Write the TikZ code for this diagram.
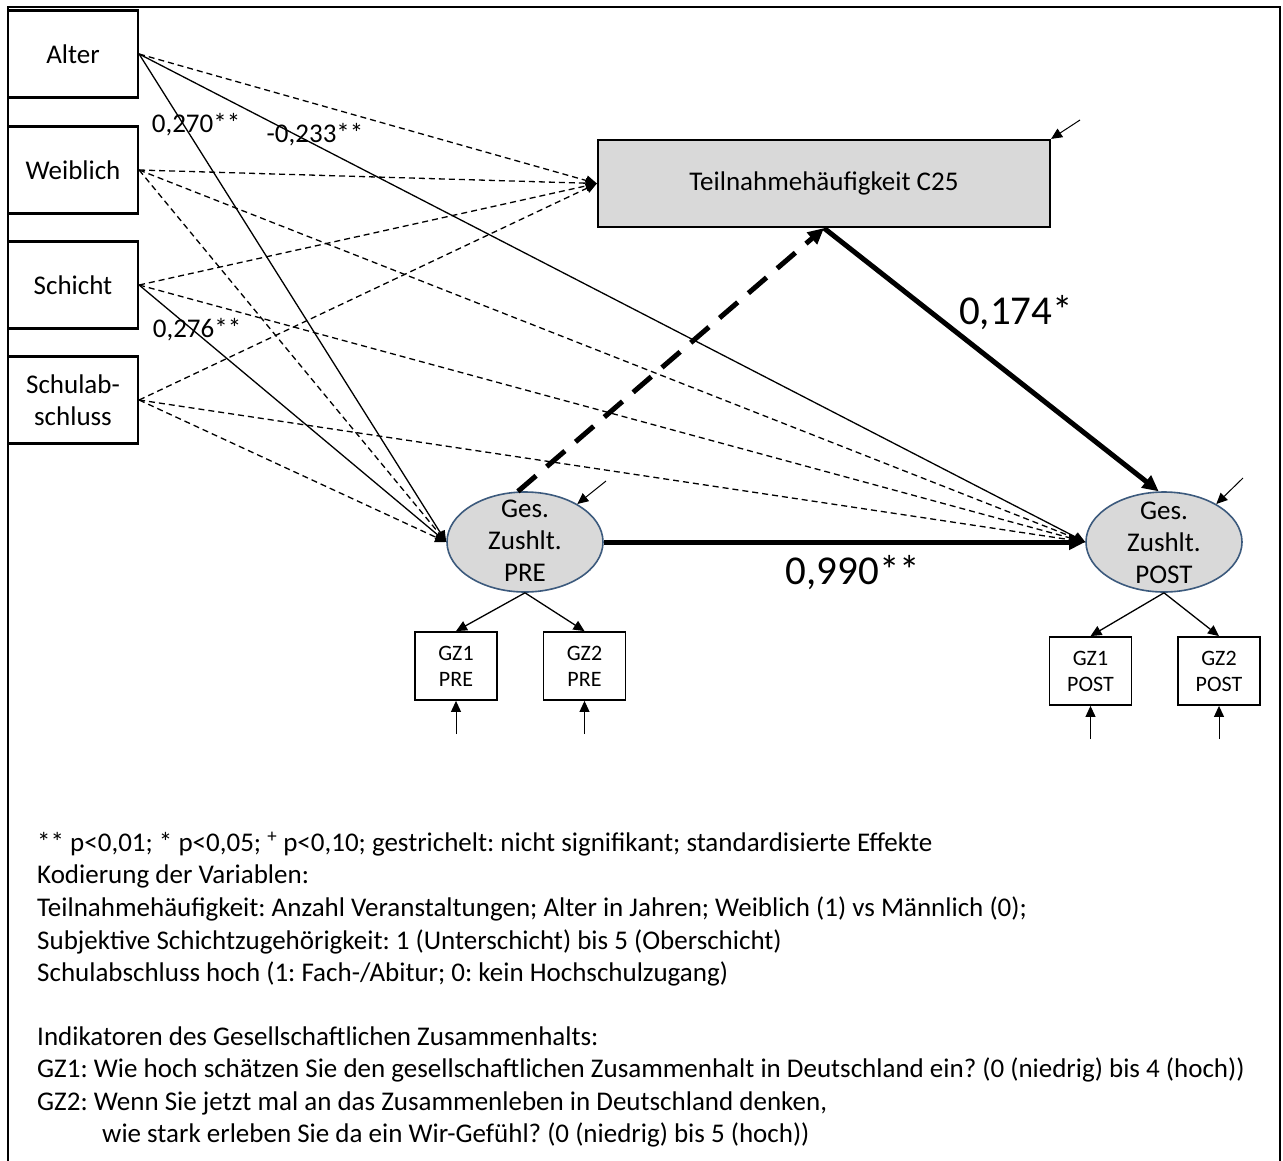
\documentclass[tikz,border=0pt]{standalone}
\usepackage{fontspec}
\setmainfont{Carlito}
\usetikzlibrary{arrows.meta,shapes.geometric}
\definecolor{ellborder}{RGB}{60,90,125}
\frenchspacing
\begin{document}
\begin{tikzpicture}[x=1pt,y=-1pt,
  font=\fontsize{27}{32}\selectfont,
  varbox/.style={draw,line width=2.2pt,minimum width=130pt,minimum height=87pt,inner sep=0pt,align=center},
  indbox/.style={draw,line width=1.8pt,minimum width=82pt,minimum height=68pt,inner sep=0pt,align=center,font=\fontsize{22}{26}\selectfont},
  latent/.style={ellipse,draw=ellborder,line width=1.6pt,fill=gray!30,minimum width=156pt,minimum height=100pt,inner sep=0pt},
  thinarr/.style={line width=1.3pt,-{Triangle[length=11pt,width=10pt]}},
  dsh/.style={thinarr,dash pattern=on 6pt off 4pt},
  thickarr/.style={line width=5pt,-{Triangle[length=16pt,width=15pt]}},
  errarr/.style={line width=1pt,-{Triangle[length=11pt,width=10pt]}},
  lg/.style={anchor=mid west,inner sep=0pt},
  coef/.style={inner sep=0pt},
  bigcoef/.style={inner sep=0pt,font=\fontsize{41}{48}\selectfont}]
\useasboundingbox (0,0) rectangle (1283,1160);
\draw[line width=2.5pt] (8,1162) -- (8,7) -- (1280,7) -- (1280,1162);

% exogenous variables
\node[varbox] (alter) at (73,54) {Alter};
\node[varbox] (weib) at (73,170) {Weiblich};
\node[varbox] (schicht) at (73,285) {Schicht};
\node[varbox] (schul) at (73,400) {Schulab-\\schluss};

% mediator
\node[draw,line width=2.2pt,fill=gray!30,minimum width=452pt,minimum height=87pt,inner sep=0pt] (teil) at (824,183.5) {Teilnahmeh\"aufigkeit C25};

% latent variables
\node[latent] (pre) at (525,542) {};
\node[inner sep=0pt,align=center] (pret) at (525,541) {Ges.\\Zushlt.\\PRE};
\node[latent] (post) at (1164,542) {};
\node[inner sep=0pt,align=center] (postt) at (1164,543) {Ges.\\Zushlt.\\POST};

% indicators
\node[indbox] (g1pre) at (456,666) {GZ1\\PRE};
\node[indbox] (g2pre) at (584.5,666) {GZ2\\PRE};
\node[indbox] (g1post) at (1090.5,671) {GZ1\\POST};
\node[indbox] (g2post) at (1219,671) {GZ2\\POST};

% error terms
\coordinate (eteil) at (1080,120);
\coordinate (epre) at (606,481);
\coordinate (epost) at (1243,478);
\coordinate (e1pre) at (456,734);
\coordinate (e2pre) at (584.5,734);
\coordinate (e1post) at (1090.5,739);
\coordinate (e2post) at (1219,739);

% paths to Teilnahme
\draw[dsh] (alter.east) -- (teil.west);
\draw[dsh] (weib.east) -- (teil.west);
\draw[dsh] (schicht.east) -- (teil.west);
\draw[dsh] (schul.east) -- (teil.west);

% paths to PRE
\draw[thinarr] (alter.east) -- (pre.west);
\draw[dsh] (weib.east) -- (pre.west);
\draw[thinarr] (schicht.east) -- (pre.west);
\draw[dsh] (schul.east) -- (pre.west);

% paths to POST
\draw[thinarr] (alter.east) -- (post.west);
\draw[dsh] (weib.east) -- (post.west);
\draw[dsh] (schicht.east) -- (post.west);
\draw[dsh] (schul.east) -- (post.west);

% structural paths
\draw[thickarr,dash pattern=on 24pt off 14pt] (pre.98) -- (teil.south);
\draw[thickarr] (teil.south) -- (post.96);
\draw[thickarr] (pre.east) -- (post.west);

% measurement
\draw[thinarr] (pre.south) -- (g1pre.north);
\draw[thinarr] (pre.south) -- (g2pre.north);
\draw[thinarr] (post.south) -- (g1post.north);
\draw[thinarr] (post.south) -- (g2post.north);

% errors
\draw[errarr] (eteil) -- (teil.north east);
\draw[errarr] (epre) -- (pre.36);
\draw[errarr] (epost) -- (post.36);
\draw[errarr] (e1pre) -- (g1pre.south);
\draw[errarr] (e2pre) -- (g2pre.south);
\draw[errarr] (e1post) -- (g1post.south);
\draw[errarr] (e2post) -- (g2post.south);

% coefficients
\node[coef] (c270) at (196,125) {0,270**};
\node[coef] (c233) at (315,135) {-0,233**};
\node[coef] (c276) at (197,330) {0,276**};
\node[bigcoef] (c174) at (1016,313) {0,174*};
\node[bigcoef] (c990) at (853,573) {0,990**};

% legend
\node[lg] (l1) at (37,849) {** p<0,01; * p<0,05; \textsuperscript{+} p<0,10; gestrichelt: nicht signifikant; standardisierte Effekte};
\node[lg] (l2) at (37,881) {Kodierung der Variablen:};
\node[lg] (l3) at (37,914) {Teilnahmeh\"aufigkeit: Anzahl Veranstaltungen; Alter in Jahren; Weiblich (1) vs M\"annlich (0);};
\node[lg] (l4) at (37,947) {Subjektive Schichtzugeh\"origkeit: 1 (Unterschicht) bis 5 (Oberschicht)};
\node[lg] (l5) at (37,979) {Schulabschluss hoch (1: Fach-/Abitur; 0: kein Hochschulzugang)};
\node[lg] (l7) at (37,1043) {Indikatoren des Gesellschaftlichen Zusammenhalts:};
\node[lg] (l8) at (37,1075) {GZ1: Wie hoch sch\"atzen Sie den gesellschaftlichen Zusammenhalt in Deutschland ein? (0 (niedrig) bis 4 (hoch))};
\node[lg] (l9) at (37,1108) {GZ2: Wenn Sie jetzt mal an das Zusammenleben in Deutschland denken,};
\node[lg] (l10) at (102,1140) {wie stark erleben Sie da ein Wir-Gef\"uhl? (0 (niedrig) bis 5 (hoch))};
\end{tikzpicture}
\end{document}
